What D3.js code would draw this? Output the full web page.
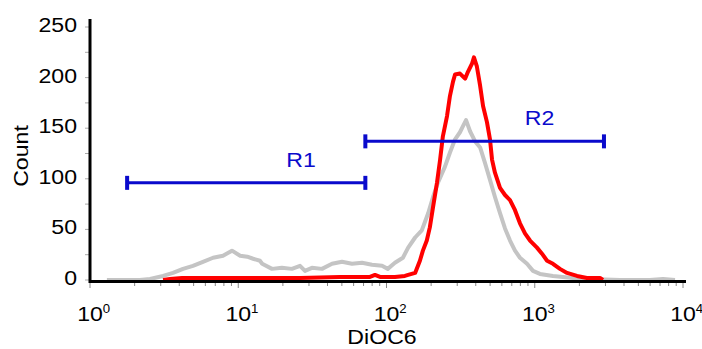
<!DOCTYPE html>
<html>
<head>
<meta charset="utf-8">
<script src="https://cdn.jsdelivr.net/npm/d3@7"></script>
<style>
    body { margin: 0; background: #fff; }
    text { font-family: "Liberation Sans", Arial, sans-serif; }
</style>
</head>
<body>
<div id="graph"></div>
<script>
// Histogram data (DiOC6 intensity, count)
const grayX = [1.30, 2.17, 2.54, 3.11, 3.63, 4.24, 4.95, 5.78, 6.76, 7.89, 9.07, 10.3, 11.5, 12.6, 14.0, 14.5, 16.9, 19.7, 23.0, 26.1, 28.2, 31.4, 36.7, 42.9, 50.1, 58.5, 68.4, 79.8, 93.3, 102, 114, 129, 140, 156, 173, 191, 206, 222, 248, 268, 290, 313, 328, 344, 366, 396, 428, 461, 499, 539, 583, 630, 681, 736, 795, 887, 973, 1084, 1327, 1811, 2360, 3758, 5985, 7330, 8833];
const grayCount = [0, 0, 1, 4, 7, 11, 14, 18, 22, 24, 29, 24, 23, 21, 19, 16, 11, 12, 11, 14, 9, 12, 11, 16, 18, 16, 17, 15, 14, 11, 17, 22, 32, 42, 49, 66, 82, 96, 112, 126, 139, 146, 152, 158, 147, 137, 131, 116, 99, 82, 66, 51, 39, 29, 22, 16, 9, 6, 4, 2, 1, 0, 0, 1, 0];

const redX = [3.11, 3.46, 4.17, 13.0, 26.1, 48.6, 77.4, 83.6, 90.4, 114, 133, 140, 156, 168, 176, 187, 196, 206, 219, 230, 240, 256, 268, 281, 290, 313, 339, 355, 378, 389, 407, 428, 448, 476, 499, 515, 539, 583, 630, 681, 736, 795, 859, 929, 1035, 1119, 1211, 1327, 1479, 1651, 1928, 2250, 2754, 2884];
const redCount = [0, 1, 2, 2, 2, 3, 3, 5, 3, 3, 4, 5, 7, 19, 29, 39, 52, 72, 96, 119, 142, 162, 182, 196, 203, 204, 199, 206, 214, 220, 211, 192, 172, 156, 139, 119, 106, 91, 84, 79, 69, 56, 46, 39, 32, 26, 19, 16, 11, 7, 4, 2, 2, 0];

// Gates (marker regions)
const gateNames = ["R1", "R2"];
const gateStart = [1.78, 72];
const gateEnd = [72, 2930];
const gateLevel = [96, 137];

// Axis ticks
const yTicks = [0, 50, 100, 150, 200, 250];
const xDecades = [0, 1, 2, 3, 4];

const width = 702,
    height = 349;
const svg = d3
    .select("#graph")
    .append("svg")
    .attr("width", width)
    .attr("height", height);

const x = d3.scaleLog().domain([1, 1e4]).range([90, 683]);
const y = d3.scaleLinear().domain([0, 250]).range([280, 27]);

// Text is drawn a bit wider than plain Arial, like the original
const stretch = 1.1;
function addText(px, py, str, anchor, rot) {
    return svg
        .append("text")
        .attr("transform", `translate(${px},${py}) rotate(${rot || 0}) scale(${stretch},1)`)
        .attr("text-anchor", anchor)
        .attr("font-size", 21)
        .text(str);
}

// Minor ticks on y (every 25) and x (2..9 in each decade)
const yMinor = d3.range(0, 251, 25);
svg.append("g")
    .selectAll("line")
    .data(yMinor)
    .enter()
    .append("line")
    .attr("x1", 85)
    .attr("x2", 90)
    .attr("y1", (d) => y(d))
    .attr("y2", (d) => y(d))
    .attr("stroke", "#aaa")
    .attr("stroke-width", 1);

let xMinor = [];
for (let e = 0; e < 4; e++) {
    for (let m = 1; m < 10; m++) xMinor.push(m * Math.pow(10, e));
}
xMinor.push(1e4);
svg.append("g")
    .selectAll("line")
    .data(xMinor)
    .enter()
    .append("line")
    .attr("x1", (d) => x(d))
    .attr("x2", (d) => x(d))
    .attr("y1", 282)
    .attr("y2", (d) => (Math.log10(d) % 1 === 0 ? 288 : 286))
    .attr("stroke", "#888")
    .attr("stroke-width", 1);

// Histogram lines
const line = d3
    .line()
    .x((d) => x(d[0]))
    .y((d) => y(d[1]));

svg.append("path")
    .datum(d3.zip(grayX, grayCount))
    .attr("d", line)
    .attr("fill", "none")
    .attr("stroke", "#c4c4c4")
    .attr("stroke-width", 4)
    .attr("stroke-linejoin", "round");

svg.append("path")
    .datum(d3.zip(redX, redCount))
    .attr("d", line)
    .attr("fill", "none")
    .attr("stroke", "#ff0000")
    .attr("stroke-width", 4)
    .attr("stroke-linejoin", "round");

// Axis lines
svg.append("line")
    .attr("x1", 90)
    .attr("x2", 90)
    .attr("y1", 19)
    .attr("y2", 283)
    .attr("stroke", "#000")
    .attr("stroke-width", 3);
svg.append("line")
    .attr("x1", 89)
    .attr("x2", 686)
    .attr("y1", 281.5)
    .attr("y2", 281.5)
    .attr("stroke", "#000")
    .attr("stroke-width", 3);

// Y tick labels
yTicks.forEach((v) => addText(77, y(v) + 5, v, "end"));

// X tick labels: 10 with a superscript exponent
xDecades.forEach((e) => {
    const t = svg
        .append("text")
        .attr("transform", `translate(${x(Math.pow(10, e))},321) scale(${stretch},1)`)
        .attr("text-anchor", "start")
        .attr("font-size", 21)
        .attr("x", -11.7);
    t.append("tspan").text("10");
    t.append("tspan").attr("font-size", 12).attr("dy", -8).text(e);
});

// Axis titles
addText(28, 156, "Count", "middle", -90);
addText(382, 344, "DiOC6", "middle");

// Gate bars with end caps and names
const blue = "#0a0acc";
gateNames.forEach((name, i) => {
    const x0 = x(gateStart[i]),
        x1 = x(gateEnd[i]),
        gy = y(gateLevel[i]);
    svg.append("line")
        .attr("x1", x0)
        .attr("x2", x1)
        .attr("y1", gy)
        .attr("y2", gy)
        .attr("stroke", blue)
        .attr("stroke-width", 3);
    [x0, x1].forEach((cx) => {
        svg.append("rect")
            .attr("x", cx - 2)
            .attr("y", gy - 7)
            .attr("width", 4)
            .attr("height", 14)
            .attr("fill", blue);
    });
    addText(x0 + (x1 - x0) * 0.73, gy - 16, name, "middle").attr("fill", blue);
});
</script>
</body>
</html>
